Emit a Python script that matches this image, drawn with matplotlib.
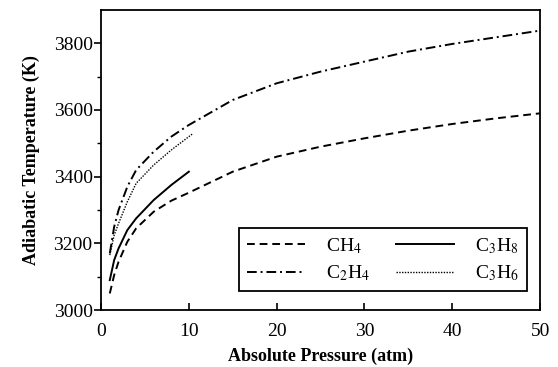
import numpy as np
import matplotlib
matplotlib.use('Agg')
import matplotlib.pyplot as plt
from matplotlib.ticker import MultipleLocator, FixedLocator

plt.rcParams['font.family'] = 'Liberation Serif'
plt.rcParams['mathtext.fontset'] = 'stix'

# pressure (atm) vs adiabatic temperature (K)
p_ch4 = [1, 1.5, 2, 3, 4, 6, 8, 10, 15, 20, 25, 30, 35, 40, 45, 50]
t_ch4 = [3050, 3105, 3145, 3205, 3245, 3295, 3328, 3352, 3415, 3460, 3490, 3515, 3538, 3558, 3575, 3590]

p_c2h4 = [1, 1.5, 2, 3, 4, 6, 8, 10, 15, 20, 25, 30, 35, 40, 45, 50]
t_c2h4 = [3170, 3250, 3300, 3370, 3420, 3475, 3520, 3555, 3630, 3680, 3715, 3745, 3775, 3798, 3818, 3838]

p_c3h8 = [1, 1.5, 2, 3, 4, 6, 8, 10]
t_c3h8 = [3090, 3150, 3185, 3240, 3275, 3330, 3375, 3415]

p_c3h6 = [1, 1.5, 2, 3, 4, 6, 8, 10.5]
t_c3h6 = [3165, 3225, 3260, 3325, 3380, 3435, 3480, 3530]

fig = plt.figure(figsize=(5.58, 3.67), dpi=100)
ax = fig.add_axes([0.181, 0.155, 0.787, 0.818])

l1, = ax.plot(p_ch4, t_ch4, color='k', lw=1.4, dashes=(4, 2.5), label='CH$_4$')
l2, = ax.plot(p_c2h4, t_c2h4, color='k', lw=1.4, dashes=(5, 2, 1, 2), label='C$_2$H$_4$')
l3, = ax.plot(p_c3h8, t_c3h8, color='k', lw=1.4, label='C$_3$H$_8$')
l4, = ax.plot(p_c3h6, t_c3h6, color='k', lw=1.0, dashes=(1, 1), label='C$_3$H$_6$')

ax.set_xlim(0, 50)
ax.set_ylim(3000, 3900)
ax.xaxis.set_major_locator(MultipleLocator(10))
ax.yaxis.set_major_locator(FixedLocator([3000, 3200, 3400, 3600, 3800]))
ax.yaxis.set_minor_locator(FixedLocator([3100, 3300, 3500, 3700]))
ax.tick_params(axis='x', direction='in', length=5, width=1.2, labelsize=14, pad=9)
ax.tick_params(axis='y', which='major', direction='out', length=5, width=1.2, labelsize=14, pad=1)
ax.tick_params(axis='y', which='minor', direction='out', length=3, width=1)
for s in ax.spines.values():
    s.set_linewidth(1.3)

ax.set_xlabel('Absolute Pressure (atm)', fontweight='bold', fontsize=13, labelpad=6)
ax.set_ylabel('Adiabatic Temperature (K)', fontweight='bold', fontsize=13, labelpad=10)

leg = ax.legend(handles=[l1, l2, l3, l4], ncol=2, loc='lower right',
                bbox_to_anchor=(0.97, 0.063),
                fancybox=False, edgecolor='k', framealpha=1, fontsize=14,
                handlelength=3.0, handletextpad=1.1, columnspacing=1.3,
                labelspacing=0.4, borderpad=0.4, borderaxespad=0)
leg.get_frame().set_linewidth(1.3)

plt.savefig('out.png')
